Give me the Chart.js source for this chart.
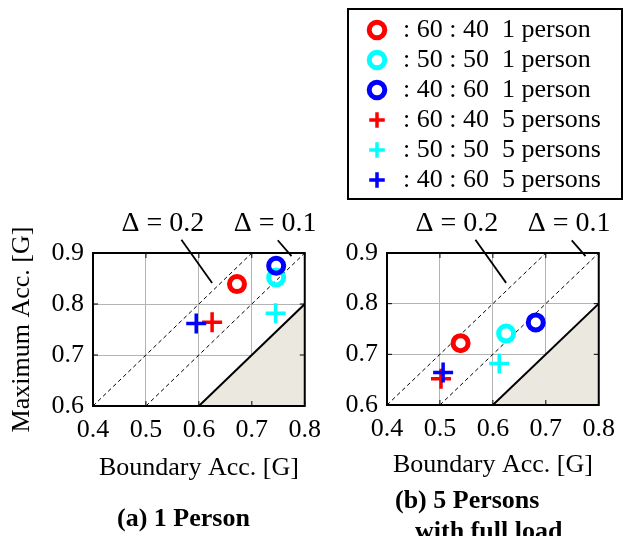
<!DOCTYPE html>
<html>
<head>
<meta charset="utf-8">
<script src="https://cdn.jsdelivr.net/npm/chart.js@4.4.0/dist/chart.umd.min.js"></script>
<style>
  body { margin: 0; background: #fff; }
  #page { position: relative; width: 624px; height: 536px; overflow: hidden; font-family: "Liberation Serif", "Times New Roman", serif; }
  canvas { position: absolute; top: 0; }
  .cap { position: absolute; font-weight: bold; font-size: 26px; line-height: 31px; white-space: nowrap; color: #000; }
</style>
</head>
<body>
<div id="page">
  <canvas id="chartA" width="330" height="536" style="left:0"></canvas>
  <canvas id="chartB" width="294" height="536" style="left:330px"></canvas>
  <canvas id="legendBox" width="277" height="420" style="left:347px"></canvas>
  <div class="cap" style="left:117px; top:502px">(a) 1 Person</div>
  <div class="cap" style="left:395px; top:484px">(b) 5 Persons</div>
  <div class="cap" style="left:415px; top:515px">with full load</div>
</div>
<script>
// series: weight ratio and number of persons
const seriesNames = [
  ': 60 : 40  1 person', ': 50 : 50  1 person', ': 40 : 60  1 person',
  ': 60 : 40  5 persons', ': 50 : 50  5 persons', ': 40 : 60  5 persons'
];
const seriesColors = ['#ff0000', '#00ffff', '#0000ff', '#ff0000', '#00ffff', '#0000ff'];
const seriesMarkers = ['circle', 'circle', 'circle', 'cross', 'cross', 'cross'];

// (a) 1 person : boundary acc. vs maximum acc. [G]
const boundaryA = [0.672, 0.746, 0.746, 0.625, 0.745, 0.595];
const maximumA  = [0.839, 0.852, 0.875, 0.764, 0.782, 0.762];

// (b) 5 persons with full load
const boundaryB = [0.539, 0.625, 0.681, 0.502, 0.612, 0.506];
const maximumB  = [0.722, 0.741, 0.763, 0.652, 0.682, 0.664];

const xTicks = [0.4, 0.5, 0.6, 0.7, 0.8];
const yTicks = [0.6, 0.7, 0.8, 0.9];
const deltas = [0.2, 0.1];

// where the delta labels and their leader lines sit (data units)
const deltaLabelX = [0.532, 0.744];
const deltaLabelY = 0.958;
const leaderFrom = [[0.567, 0.926], [0.749, 0.925]];
const leaderTo   = [[0.625, 0.841], [0.775, 0.894]];

Chart.defaults.font.family = '"Liberation Serif", "Times New Roman", serif';
Chart.defaults.color = '#000';

const xMin = xTicks[0], xMax = xTicks[xTicks.length - 1];
const yMin = yTicks[0], yMax = yTicks[yTicks.length - 1];

function markerSets(bx, my) {
  return seriesNames.map((name, i) => ({
    label: name,
    data: [{x: bx[i], y: my[i]}],
    xAxisID: 'x',
    yAxisID: 'y',
    pointStyle: seriesMarkers[i],
    borderColor: seriesColors[i],
    backgroundColor: 'rgba(0,0,0,0)',
    pointRadius: seriesMarkers[i] === 'circle' ? 7.5 : 10,
    borderWidth: seriesMarkers[i] === 'circle' ? 5 : 3.5,
    order: 6 - i
  }));
}

function guideSets() {
  const sets = deltas.map(d => ({
    label: 'delta',
    data: [{x: yMin - d, y: yMin}, {x: yMax - d, y: yMax}],
    xAxisID: 'x',
    yAxisID: 'y',
    showLine: true,
    pointRadius: 0,
    borderColor: '#000',
    borderWidth: 1,
    borderDash: [4, 3],
    order: 10
  }));
  // region where max acc. is below the boundary
  sets.push({
    label: 'limit',
    data: [{x: yMin, y: yMin}, {x: xMax, y: xMax}],
    xAxisID: 'x',
    yAxisID: 'y',
    showLine: true,
    pointRadius: 0,
    borderColor: '#000',
    borderWidth: 2,
    backgroundColor: '#ebe8df',
    fill: 'start',
    order: 11
  });
  return sets;
}

const framePlugin = {
  id: 'frame',
  afterDraw(chart) {
    const {ctx, chartArea: a} = chart;
    const x = chart.scales.x, y = chart.scales.y;
    ctx.save();
    ctx.strokeStyle = '#000';
    ctx.lineWidth = 1;
    ctx.beginPath();
    xTicks.forEach(v => {
      const px = x.getPixelForValue(v);
      ctx.moveTo(px, a.bottom); ctx.lineTo(px, a.bottom - 5);
      ctx.moveTo(px, a.top); ctx.lineTo(px, a.top + 5);
    });
    yTicks.forEach(v => {
      const py = y.getPixelForValue(v);
      ctx.moveTo(a.left, py); ctx.lineTo(a.left + 5, py);
      ctx.moveTo(a.right, py); ctx.lineTo(a.right - 5, py);
    });
    ctx.stroke();
    ctx.lineWidth = 2;
    ctx.strokeRect(a.left, a.top, a.right - a.left, a.bottom - a.top);

    // delta annotations
    ctx.fillStyle = '#000';
    ctx.font = '28px "Liberation Serif"';
    ctx.textAlign = 'center';
    ctx.textBaseline = 'middle';
    ctx.lineWidth = 1.8;
    deltas.forEach((d, i) => {
      ctx.fillText('\u0394 = ' + d.toFixed(1), x.getPixelForValue(deltaLabelX[i]), y.getPixelForValue(deltaLabelY));
      ctx.beginPath();
      ctx.moveTo(x.getPixelForValue(leaderFrom[i][0]), y.getPixelForValue(leaderFrom[i][1]));
      ctx.lineTo(x.getPixelForValue(leaderTo[i][0]), y.getPixelForValue(leaderTo[i][1]));
      ctx.stroke();
    });
    ctx.restore();
  }
};

const legendFrame = {
  id: 'legendFrame',
  afterDraw(chart) {
    const lg = chart.legend;
    const ctx = chart.ctx;
    ctx.save();
    ctx.strokeStyle = '#000';
    ctx.lineWidth = 2;
    ctx.strokeRect(1, lg.top - 4, chart.width - 3, 190);
    ctx.restore();
  }
};

function xScale(height, titleGap) {
  return {
    type: 'linear', min: xMin, max: xMax,
    afterBuildTicks: s => { s.ticks = xTicks.map(v => ({value: v})); },
    ticks: {font: {size: 26}, padding: 9, maxRotation: 0, autoSkip: false, callback: v => v.toFixed(1)},
    grid: {color: '#b4b4b4', drawTicks: false},
    border: {display: false},
    title: {display: true, text: 'Boundary Acc. [G]', font: {size: 26, lineHeight: 1}, padding: {top: 0, bottom: titleGap}},
    afterFit: s => { s.height = height; }
  };
}

function yScale(width, withTitle) {
  return {
    type: 'linear', min: yMin, max: yMax,
    afterBuildTicks: s => { s.ticks = yTicks.map(v => ({value: v})); },
    ticks: {font: {size: 26}, padding: 9, autoSkip: false, callback: v => v.toFixed(1)},
    grid: {color: '#b4b4b4', drawTicks: false},
    border: {display: false},
    title: {display: withTitle, text: 'Maximum Acc. [G]', font: {size: 26, lineHeight: 1}, padding: {top: 9, bottom: 0}},
    afterFit: s => { s.width = width; }
  };
}

function plotOptions(padding, xs, ys) {
  return {
    responsive: false,
    animation: false,
    events: [],
    layout: {padding: padding},
    plugins: {legend: {display: false}, tooltip: {enabled: false}},
    scales: {x: xs, y: ys}
  };
}

new Chart(document.getElementById('chartA'), {
  type: 'scatter',
  data: {datasets: markerSets(boundaryA, maximumA).concat(guideSets())},
  options: plotOptions({top: 253, left: 0, right: 23, bottom: 0}, xScale(130, 55), yScale(93, true)),
  plugins: [framePlugin]
});

new Chart(document.getElementById('chartB'), {
  type: 'scatter',
  data: {datasets: markerSets(boundaryB, maximumB).concat(guideSets())},
  options: plotOptions({top: 253, left: 9, right: 25, bottom: 0}, xScale(131, 58), yScale(48, false)),
  plugins: [framePlugin]
});

// shared legend for both panels
const legendSets = markerSets(boundaryA, maximumA).map(ds => Object.assign(ds, {pointRadius: 0}));
new Chart(document.getElementById('legendBox'), {
  type: 'scatter',
  data: {datasets: legendSets},
  options: {
    responsive: false,
    animation: false,
    events: [],
    layout: {padding: {top: 13, left: 13, right: 0, bottom: 0}},
    scales: {
      x: {display: false, min: xMin, max: xMax},
      y: {display: false, min: yMin, max: yMax}
    },
    plugins: {
      tooltip: {enabled: false},
      legend: {
        display: true,
        position: 'top',
        align: 'start',
        labels: {
          usePointStyle: true,
          boxWidth: 26,
          boxHeight: 11,
          padding: 4,
          color: '#000',
          font: {size: 26},
          sort: (a, b) => a.datasetIndex - b.datasetIndex
        }
      }
    }
  },
  plugins: [legendFrame]
});
</script>
</body>
</html>
